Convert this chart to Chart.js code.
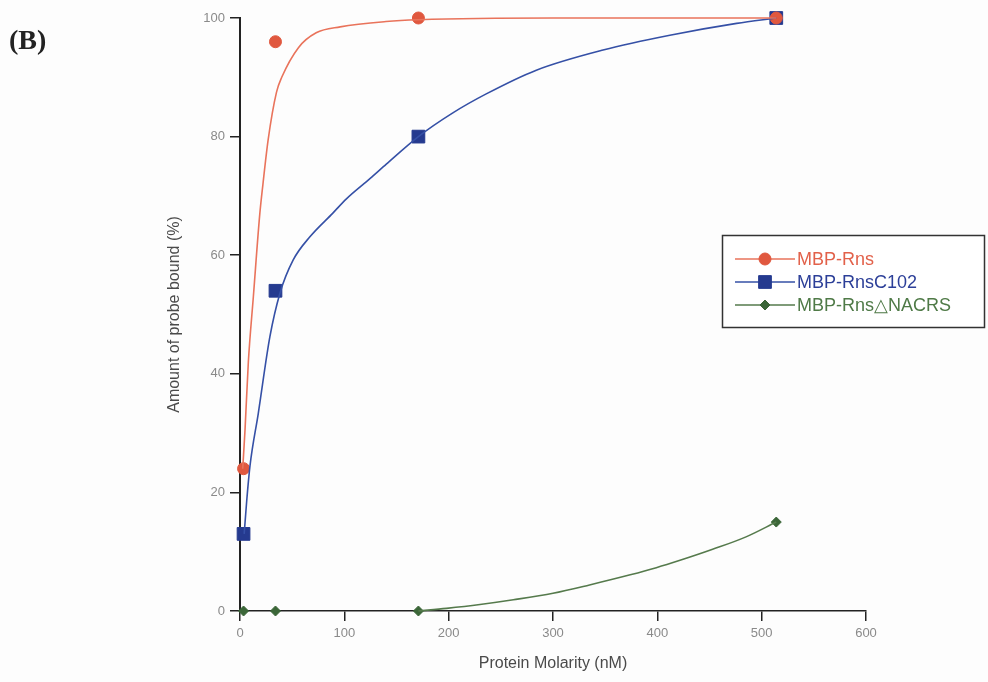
<!DOCTYPE html>
<html>
<head>
<meta charset="utf-8">
<script src="https://cdn.jsdelivr.net/npm/chart.js@4/dist/chart.umd.min.js"></script>
<style>
  html, body { margin: 0; padding: 0; background: #fdfdfd; }
  #wrap { position: relative; width: 988px; height: 682px; }
  #panel { position: absolute; left: 9px; top: 24px; font: bold 28px "Liberation Serif", "DejaVu Serif", serif; color: #222; }
</style>
</head>
<body>
<div id="wrap">
  <canvas id="bindChart" width="988" height="682"></canvas>
  <div id="panel">(B)</div>
</div>
<script>
// measured points (nM, % bound)
const molarity = [3.4, 34, 171, 514];
const rnsBound = [24, 96, 100, 100];
const c102Bound = [13, 54, 80, 100];
const deltaBound = [0, 0, 0, 15];

// fitted curves
const rnsFitX = [2.6, 4.8, 8, 12.8, 19, 22, 27, 35, 40, 56, 73, 96, 140, 171, 300, 514];
const rnsFitY = [24, 30.5, 42, 53, 67, 72, 79.5, 87.5, 90, 95, 97.5, 98.5, 99.4, 99.7, 100, 100];
const c102FitX = [4, 6.4, 9.6, 17.5, 28.7, 38.3, 51, 67, 89, 102, 124.5, 140.5, 171, 204, 236, 284, 348, 412, 476, 514];
const c102FitY = [13, 18.5, 24.5, 33.3, 46.3, 53.6, 59.2, 63.1, 67.1, 69.5, 72.9, 75.4, 80, 84, 87.2, 91.2, 94.6, 97.1, 99.1, 100];
const deltaFitX = [171, 198, 230, 262, 300, 335, 374, 399, 421, 453, 485, 514];
const deltaFitY = [0, 0.45, 1.1, 1.9, 3.0, 4.4, 6.1, 7.3, 8.5, 10.4, 12.5, 15];

const xTicks = [0, 100, 200, 300, 400, 500, 600];
const yTicks = [0, 20, 40, 60, 80, 100];

const seriesNames = ['MBP-Rns', 'MBP-RnsC102', 'MBP-Rns\u25B3NACRS'];
const lineColors = ['#e9735b', '#3550a6', '#557a4c'];
const markColors = ['#e0583f', '#253a8f', '#3b6638'];
const textColors = ['#e2614a', '#2c3f98', '#4f7a47'];
const markStyles = ['circle', 'rect', 'rectRot'];
const markSizes = [6, 9, 5];

function pts(xs, ys) {
  return xs.map((x, i) => ({ x: x, y: ys[i] }));
}

function fitSet(xs, ys, i) {
  return {
    label: seriesNames[i] + ' fit',
    data: pts(xs, ys),
    showLine: true,
    borderColor: lineColors[i],
    borderWidth: 1.6,
    pointRadius: 0,
    cubicInterpolationMode: 'monotone',
    clip: false
  };
}

function markSet(ys, i) {
  return {
    label: seriesNames[i],
    data: pts(molarity, ys),
    showLine: false,
    pointStyle: markStyles[i],
    pointRadius: markSizes[i],
    backgroundColor: markColors[i],
    borderColor: markColors[i],
    borderWidth: 1,
    clip: false
  };
}

// boxed legend with line + marker, like the original
const boxLegend = {
  id: 'boxLegend',
  afterDraw(chart) {
    const ctx = chart.ctx;
    ctx.save();
    ctx.fillStyle = '#ffffff';
    ctx.fillRect(722, 235, 262, 92);
    ctx.strokeStyle = '#333';
    ctx.lineWidth = 1.5;
    ctx.strokeRect(722.5, 235.5, 262, 92);
    const rows = [259, 282, 305];
    rows.forEach((y, i) => {
      ctx.strokeStyle = lineColors[i];
      ctx.lineWidth = 1.6;
      ctx.beginPath();
      ctx.moveTo(735, y);
      ctx.lineTo(795, y);
      ctx.stroke();
      ctx.fillStyle = markColors[i];
      ctx.strokeStyle = markColors[i];
      ctx.lineWidth = 1;
      Chart.helpers.drawPoint(ctx, { pointStyle: markStyles[i], radius: markSizes[i], borderWidth: 1 }, 765, y);
      ctx.fillStyle = textColors[i];
      ctx.font = '18px "Liberation Sans", Arial, sans-serif';
      ctx.textBaseline = 'middle';
      ctx.fillText(seriesNames[i], 797, y + 1);
    });
    ctx.restore();
  }
};

const axisFont = { family: '"Liberation Sans", Arial, sans-serif', size: 13 };
const titleFont = { family: '"Liberation Sans", Arial, sans-serif', size: 16 };

new Chart(document.getElementById('bindChart'), {
  type: 'scatter',
  data: {
    datasets: [
      fitSet(rnsFitX, rnsFitY, 0),
      fitSet(c102FitX, c102FitY, 1),
      fitSet(deltaFitX, deltaFitY, 2),
      markSet(rnsBound, 0),
      markSet(c102Bound, 1),
      markSet(deltaBound, 2)
    ]
  },
  options: {
    responsive: false,
    animation: false,
    layout: { padding: { left: 161, right: 122, top: 18, bottom: 5 } },
    plugins: {
      legend: { display: false },
      tooltip: { enabled: false }
    },
    scales: {
      x: {
        type: 'linear',
        min: 0,
        max: 600,
        afterBuildTicks: s => { s.ticks = xTicks.map(v => ({ value: v })); },
        afterFit: s => { s.height = 66; },
        grid: { drawOnChartArea: false, drawTicks: true, tickLength: 10, color: '#222', lineWidth: 1.5 },
        border: { display: true, color: '#222', width: 1.5 },
        ticks: { color: '#8a8a8a', font: axisFont, padding: 5, maxRotation: 0 },
        title: { display: true, text: 'Protein Molarity (nM)', color: '#4a4a4a', font: titleFont }
      },
      y: {
        type: 'linear',
        min: 0,
        max: 100,
        afterBuildTicks: s => { s.ticks = yTicks.map(v => ({ value: v })); },
        afterFit: s => { s.width = 79; },
        grid: { drawOnChartArea: false, drawTicks: true, tickLength: 10, color: '#222', lineWidth: 1.5 },
        border: { display: true, color: '#222', width: 2 },
        ticks: { color: '#8a8a8a', font: axisFont, padding: 5 },
        title: { display: true, text: 'Amount of probe bound (%)', color: '#4a4a4a', font: titleFont }
      }
    }
  },
  plugins: [boxLegend]
});
</script>
</body>
</html>
